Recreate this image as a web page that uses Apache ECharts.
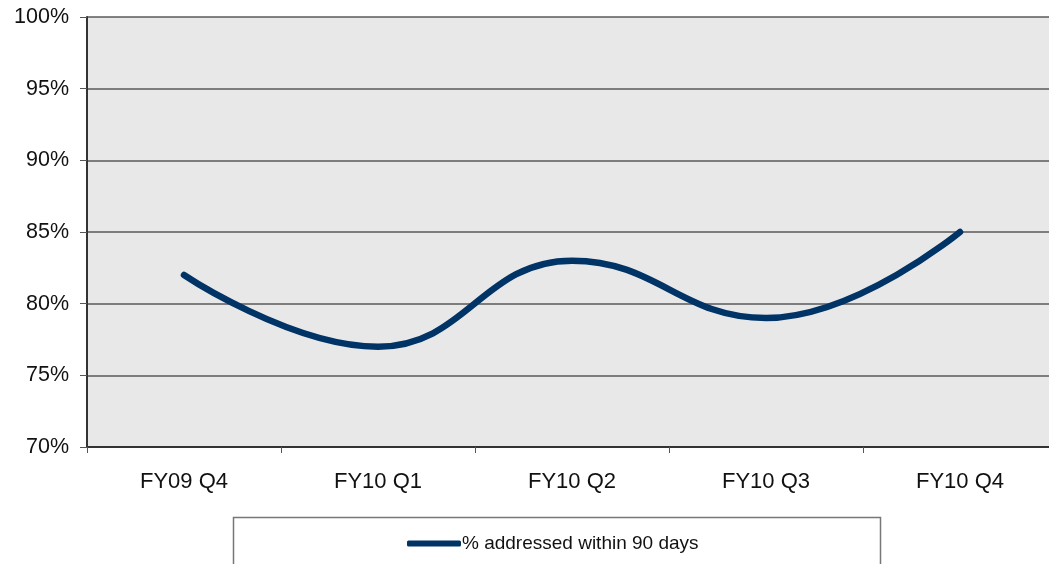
<!DOCTYPE html>
<html><head><meta charset="utf-8">
<script src="https://cdn.jsdelivr.net/npm/echarts@6/dist/echarts.min.js"></script>
<style>html,body{margin:0;padding:0;background:#fff;overflow:hidden}#c{width:1057px;height:564px}</style>
</head><body><div id="c"></div>
<script>
const categories = ['FY09 Q4','FY10 Q1','FY10 Q2','FY10 Q3','FY10 Q4'];
const seriesName = '% addressed within 90 days';
const values = [82, 77, 83, 79, 85];
const yMin = 70, yMax = 100, yStep = 5;

const chart = echarts.init(document.getElementById('c'), null, {renderer:'canvas'});
chart.setOption({
  animation:false,
  textStyle:{fontFamily:'Liberation Sans, Arial, sans-serif'},
  grid:{left:87, right:0, top:17, height:430, show:true, backgroundColor:'#e8e8e8', borderWidth:0},
  xAxis:{type:'category', data:categories, boundaryGap:true,
    axisLine:{lineStyle:{color:'#333', width:2}},
    axisTick:{show:true, length:6, lineStyle:{color:'#555', width:1}},
    axisLabel:{color:'#111', fontSize:22, margin:24}},
  yAxis:{type:'value', min:yMin, max:yMax, interval:yStep,
    axisLine:{show:true, lineStyle:{color:'#333', width:2}},
    axisTick:{show:true, length:7, lineStyle:{color:'#555', width:1}},
    axisLabel:{color:'#111', fontSize:21.5, margin:18, formatter:v=>v+'%'},
    splitLine:{lineStyle:{color:'#5a5a5a', width:1.5}}},
  legend:{data:[{name:seriesName, icon:'roundRect'}], left:407, top:534, padding:0, itemWidth:54, itemHeight:6, itemGap:10,
    textStyle:{fontSize:19, color:'#111', padding:[0,0,0,-4]}},
  graphic:[{type:'rect', shape:{x:233.5, y:517.5, width:647, height:60}, style:{fill:'none', stroke:'#777', lineWidth:1.5}, z:-1}],
  series:[{name:seriesName, type:'line', data:values, smooth:0.45, symbol:'none',
    lineStyle:{color:'#003366', width:6.5, cap:'round'}, itemStyle:{color:'#003366'}}]
});
</script></body></html>
